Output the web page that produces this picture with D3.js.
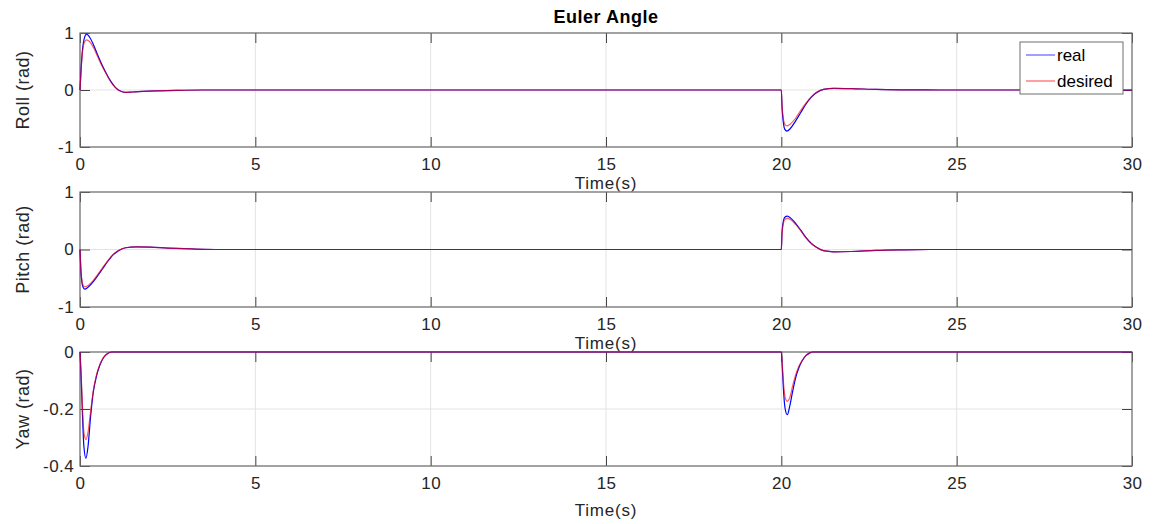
<!DOCTYPE html>
<html><head><meta charset="utf-8">
<script src="https://cdn.jsdelivr.net/npm/d3@7"></script>
<style>
body{margin:0;background:#fff;}
svg{display:block;font-family:"Liberation Sans",Arial,Helvetica,sans-serif;}
</style></head>
<body><svg id="c" width="1153" height="524"></svg>
<script>
const chartTitle = "Euler Angle";
const xLabel = "Time(s)";
const xTicks = [0,5,10,15,20,25,30];
const legendLabels = ["real","desired"];

const rollTime = [0,0.03,0.07,0.12,0.19,0.27,0.38,0.5,0.62,0.75,0.88,1.0,1.12,1.28,1.5,1.8,2.2,2.8,3.5,
  20,20.02,20.06,20.1,20.16,20.25,20.4,20.55,20.7,20.85,21.0,21.2,21.5,22,22.7,23.5,24.5,30];
const rollReal = [0,0.35,0.7,0.9,0.98,0.93,0.8,0.62,0.45,0.29,0.15,0.05,-0.01,-0.04,-0.035,-0.025,-0.015,-0.005,0,
  0,-0.3,-0.58,-0.69,-0.72,-0.68,-0.55,-0.4,-0.25,-0.13,-0.05,0.01,0.03,0.025,0.01,0.003,0,0];
const rollDesired = [0,0.33,0.66,0.83,0.88,0.85,0.75,0.59,0.43,0.28,0.14,0.05,-0.01,-0.04,-0.035,-0.025,-0.015,-0.005,0,
  0,-0.27,-0.51,-0.6,-0.63,-0.6,-0.5,-0.36,-0.23,-0.12,-0.04,0.01,0.03,0.025,0.01,0.003,0,0];
const rollTicks = [-1,0,1];

const pitchTime = [0,0.02,0.05,0.09,0.14,0.22,0.35,0.5,0.65,0.8,0.95,1.1,1.3,1.6,2.0,2.5,3.2,4.0,
  20,20.02,20.06,20.1,20.17,20.26,20.4,20.55,20.7,20.85,21.0,21.2,21.5,22,22.7,23.5,24.5,30];
const pitchReal = [0,-0.3,-0.55,-0.66,-0.69,-0.66,-0.58,-0.46,-0.33,-0.2,-0.09,-0.02,0.03,0.045,0.04,0.025,0.01,0,
  0,0.3,0.5,0.56,0.58,0.55,0.46,0.34,0.21,0.11,0.04,-0.02,-0.04,-0.035,-0.015,-0.005,0,0];
const pitchDesired = [0,-0.28,-0.52,-0.62,-0.65,-0.63,-0.56,-0.44,-0.31,-0.19,-0.08,-0.015,0.03,0.045,0.04,0.025,0.01,0,
  0,0.28,0.46,0.52,0.54,0.52,0.44,0.33,0.2,0.1,0.04,-0.02,-0.04,-0.035,-0.015,-0.005,0,0];
const pitchTicks = [-1,0,1];

const yawTime = [0,0.03,0.07,0.11,0.17,0.23,0.3,0.38,0.47,0.57,0.67,0.78,0.9,
  20,20.03,20.07,20.11,20.17,20.24,20.32,20.41,20.5,20.6,20.7,20.8,20.9,30];
const yawReal = [0,-0.08,-0.22,-0.33,-0.373,-0.33,-0.23,-0.14,-0.085,-0.045,-0.02,-0.006,0,
  0,-0.06,-0.15,-0.2,-0.22,-0.19,-0.14,-0.09,-0.055,-0.03,-0.013,-0.004,0,0];
const yawDesired = [0,-0.07,-0.19,-0.28,-0.307,-0.28,-0.21,-0.135,-0.08,-0.043,-0.019,-0.005,0,
  0,-0.05,-0.12,-0.16,-0.173,-0.16,-0.12,-0.08,-0.05,-0.028,-0.012,-0.004,0,0];
const yawTicks = [-0.4,-0.2,0];

const panels = [
  {label:"Roll (rad)", t:rollTime, real:rollReal, des:rollDesired, ticks:rollTicks, dom:[-1,1], top:33, bottom:147, xl:189, legend:true},
  {label:"Pitch (rad)", t:pitchTime, real:pitchReal, des:pitchDesired, ticks:pitchTicks, dom:[-1,1], top:192, bottom:307, xl:349},
  {label:"Yaw (rad)", t:yawTime, real:yawReal, des:yawDesired, ticks:yawTicks, dom:[-0.4,0], top:352, bottom:466, xl:516}
];

const svg = d3.select("#c");
const L = 80, R = 1132, TL = 10;
const x = d3.scaleLinear().domain([0,30]).range([L,R]);
const txt = "#262626", axc = "#6e6e6e", grid = "#e3e3e3";

svg.append("text").attr("x",(L+R)/2).attr("y",23).attr("text-anchor","middle")
  .attr("font-size",18).attr("font-weight","bold").attr("letter-spacing",0.5).attr("fill","#000").text(chartTitle);

panels.forEach(p => {
  const y = d3.scaleLinear().domain(p.dom).range([p.bottom,p.top]);
  const g = svg.append("g");
  g.selectAll(".gx").data(xTicks).join("line")
    .attr("x1",d=>x(d)).attr("x2",d=>x(d)).attr("y1",p.top).attr("y2",p.bottom)
    .attr("stroke",grid).attr("stroke-width",1);
  g.selectAll(".gy").data(p.ticks).join("line")
    .attr("x1",L).attr("x2",R).attr("y1",d=>y(d)).attr("y2",d=>y(d))
    .attr("stroke",grid).attr("stroke-width",1);
  const fmt = d => String(d);
  const axB = g.append("g").attr("transform",`translate(0,${p.bottom})`)
    .call(d3.axisBottom(x).tickValues(xTicks).tickSizeInner(-TL).tickSizeOuter(0).tickPadding(11).tickFormat(fmt));
  const axT = g.append("g").attr("transform",`translate(0,${p.top})`)
    .call(d3.axisTop(x).tickValues(xTicks).tickSizeInner(-TL).tickSizeOuter(0).tickFormat(""));
  const ayL = g.append("g").attr("transform",`translate(${L},0)`)
    .call(d3.axisLeft(y).tickValues(p.ticks).tickSizeInner(-TL).tickSizeOuter(0).tickPadding(6).tickFormat(fmt));
  const ayR = g.append("g").attr("transform",`translate(${R},0)`)
    .call(d3.axisRight(y).tickValues(p.ticks).tickSizeInner(-TL).tickSizeOuter(0).tickFormat(""));
  [axB,axT,ayL,ayR].forEach(a => {
    a.select(".domain").remove();
    a.selectAll(".tick line").attr("stroke","#444").attr("stroke-width",1);
    a.selectAll("text").attr("fill",txt).attr("font-size",17).attr("letter-spacing",0.4)
      .attr("font-family",'"Liberation Sans",Arial,sans-serif');
  });
  g.append("rect").attr("x",L).attr("y",p.top).attr("width",R-L).attr("height",p.bottom-p.top)
    .attr("fill","none").attr("stroke",axc).attr("stroke-width",1.2);
  const line = d3.line().x(d=>x(d[0])).y(d=>y(d[1])).curve(d3.curveMonotoneX);
  g.append("path").datum(p.t.map((t,i)=>[t,p.real[i]])).attr("d",line)
    .attr("fill","none").attr("stroke","#0000ff").attr("stroke-width",1.2);
  g.append("path").datum(p.t.map((t,i)=>[t,p.des[i]])).attr("d",line)
    .attr("fill","none").attr("stroke","#ff0000").attr("stroke-opacity",0.65).attr("stroke-width",1.2);
  g.append("text").attr("x",(L+R)/2).attr("y",p.xl).attr("text-anchor","middle")
    .attr("font-size",17).attr("letter-spacing",0.8).attr("fill",txt).text(xLabel);
  g.append("text").attr("transform",`translate(29,${(p.top+p.bottom)/2}) rotate(-90)`)
    .attr("text-anchor","middle").attr("font-size",18).attr("letter-spacing",0.5).attr("fill",txt).text(p.label);
  if (p.legend) {
    const lg = svg.append("g");
    lg.append("rect").attr("x",1020).attr("y",42).attr("width",103).attr("height",52)
      .attr("fill","#fff").attr("stroke","#6e6e6e").attr("stroke-width",1);
    const cols = ["#0000ff","#ff0000"];
    legendLabels.forEach((lab,i)=>{
      const yy = 55 + i*26;
      lg.append("line").attr("x1",1026).attr("x2",1055).attr("y1",yy).attr("y2",yy)
        .attr("stroke",cols[i]).attr("stroke-width",1).attr("opacity",0.75);
      lg.append("text").attr("x",1057).attr("y",yy+6).attr("font-size",17).attr("fill","#000").text(lab);
    });
  }
});
</script></body></html>
